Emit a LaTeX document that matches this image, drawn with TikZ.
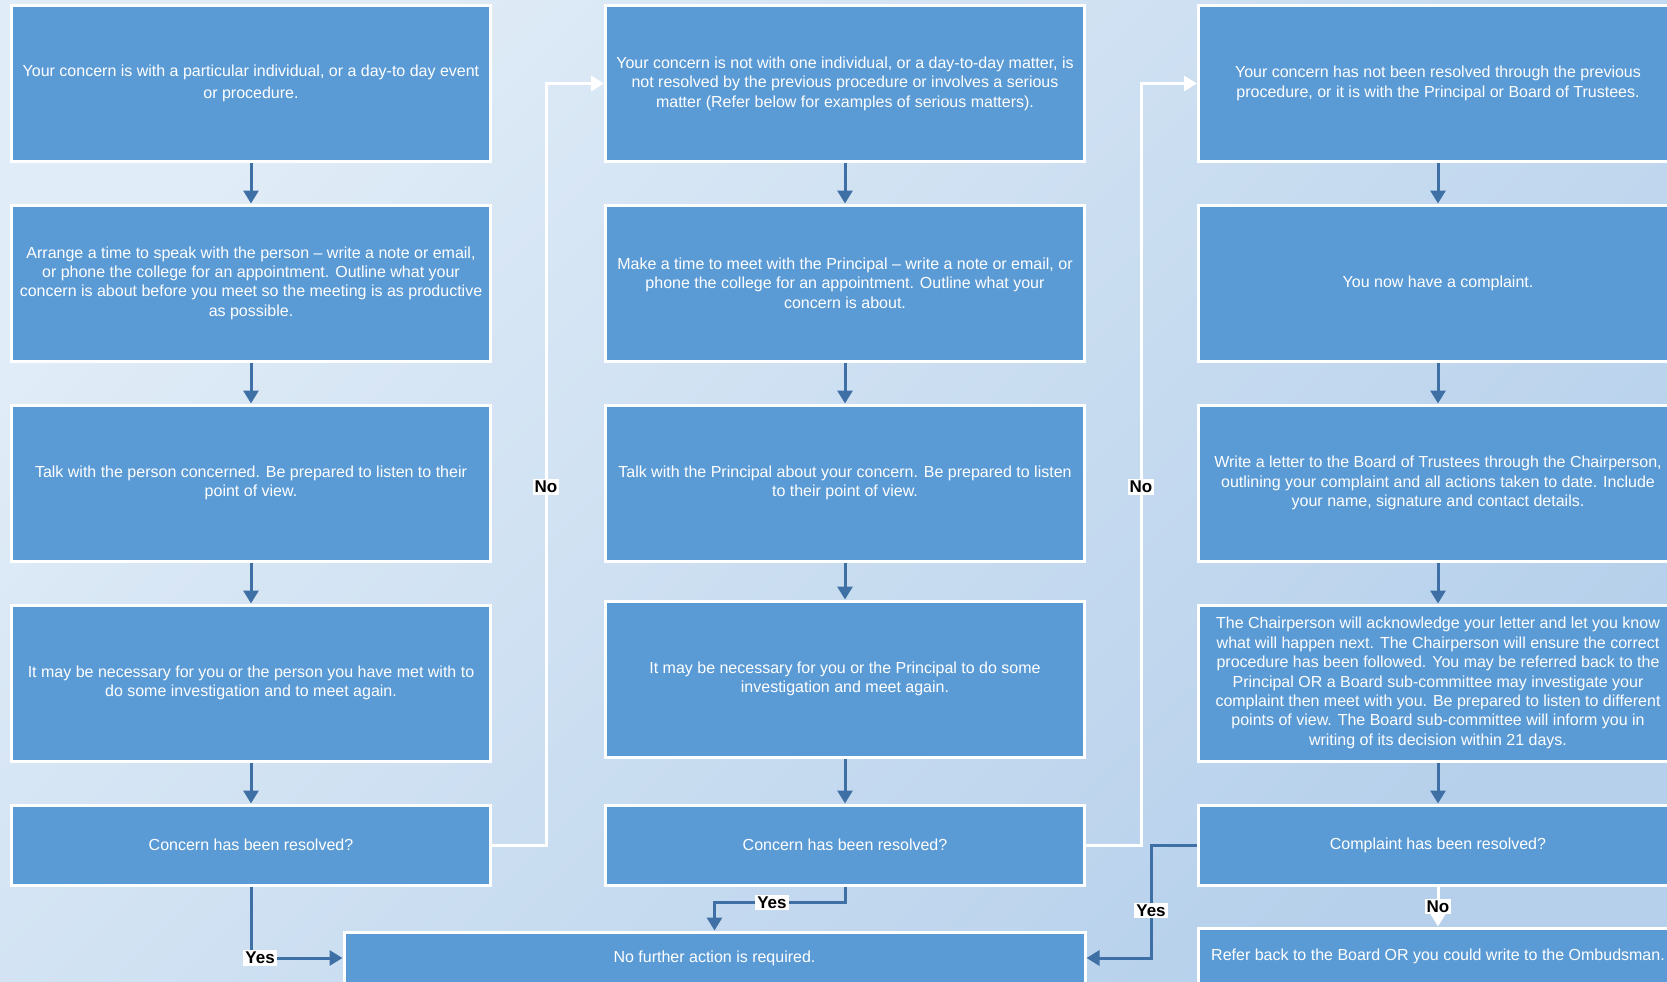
\documentclass[tikz,border=0pt]{standalone}
\usepackage{fontspec}
\setmainfont{Liberation Sans}
\usetikzlibrary{arrows.meta}
\definecolor{boxblue}{HTML}{5B9BD5}
\definecolor{arrowblue}{RGB}{62,112,166}
\definecolor{bgtop}{RGB}{224,236,247}
\definecolor{bgbot}{RGB}{182,208,235}
\begin{document}
\begin{tikzpicture}[x=0.5pt, y=-0.5pt,
  stepbox/.style={draw=white, line width=1.5pt, fill=boxblue, text=white,
    minimum width=239.5pt, minimum height=78pt, inner sep=0pt, align=center,
    font=\fontsize{8}{9.7}\selectfont},
  askbox/.style={stepbox, minimum height=40pt},
  flow/.style={draw=arrowblue, line width=1.5pt, -{Triangle[length=6.5pt,width=7.5pt]}},
  back/.style={draw=white, line width=1.5pt, -{Triangle[length=6.5pt,width=7.5pt]}},
  lbl/.style={fill=white, text=black, inner sep=1pt, font=\fontsize{8.5}{9}\selectfont\bfseries}]
\useasboundingbox (0,0) rectangle (1667,981);
\clip (0,0) rectangle (1667,981);
\shade[shading=axis, top color=bgtop, bottom color=bgbot, shading angle=45] (0,0) rectangle (1667,981);

\node[stepbox] (c1r1) at (251,83.5) {Your concern is with a particular individual, or a day-to day event\\[1.5pt] or procedure.};
\node[stepbox] (c1r2) at (251,283) {Arrange a time to speak with the person – write a note or email,\\ or phone the college for an appointment.  Outline what your\\ concern is about before you meet so the meeting is as productive\\ as possible.};
\node[stepbox] (c1r3) at (251,483) {Talk with the person concerned.  Be prepared to listen to their\\ point of view.};
\node[stepbox] (c1r4) at (251,683) {It may be necessary for you or the person you have met with to\\ do some investigation and to meet again.};
\node[askbox] (c1r5) at (251,845) {Concern has been resolved?};

\node[stepbox] (c2r1) at (845,83.5) {Your concern is not with one individual, or a day-to-day matter, is\\ not resolved by the previous procedure or involves a serious\\ matter (Refer below for examples of serious matters).};
\node[stepbox] (c2r2) at (845,283) {Make a time to meet with the Principal – write a note or email, or\\ phone the college for an appointment.  Outline what your\\ concern is about.};
\node[stepbox] (c2r3) at (845,483) {Talk with the Principal about your concern.  Be prepared to listen\\ to their point of view.};
\node[stepbox] (c2r4) at (845,679) {It may be necessary for you or the Principal to do some\\ investigation and meet again.};
\node[askbox] (c2r5) at (845,845) {Concern has been resolved?};

\node[stepbox] (c3r1) at (1438,83.5) {Your concern has not been resolved through the previous\\ procedure, or it is with the Principal or Board of Trustees.};
\node[stepbox] (c3r2) at (1438,283) {You now have a complaint.};
\node[stepbox] (c3r3) at (1438,483) {Write a letter to the Board of Trustees through the Chairperson,\\ outlining your complaint and all actions taken to date.  Include\\ your name, signature and contact details.};
\node[stepbox] (c3r4) at (1438,683) {The Chairperson will acknowledge your letter and let you know\\ what will happen next.  The Chairperson will ensure the correct\\ procedure has been followed.  You may be referred back to the\\ Principal OR a Board sub-committee may investigate your\\ complaint then meet with you.  Be prepared to listen to different\\ points of view.  The Board sub-committee will inform you in\\ writing of its decision within 21 days.};
\node[askbox] (c3r5) at (1438,845) {Complaint has been resolved?};

\node[stepbox, minimum width=370.5pt, minimum height=26pt] (done) at (714.5,958) {No further action is required.};
\node[stepbox, minimum height=28pt] (ombud) at (1438,956) {Refer back to the Board OR you could write to the Ombudsman.};

\draw[flow] (c1r1) -- (c1r2);
\draw[flow] (c1r2) -- (c1r3);
\draw[flow] (c1r3) -- (c1r4);
\draw[flow] (c1r4) -- (c1r5);
\draw[flow] (c2r1) -- (c2r2);
\draw[flow] (c2r2) -- (c2r3);
\draw[flow] (c2r3) -- (c2r4);
\draw[flow] (c2r4) -- (c2r5);
\draw[flow] (c3r1) -- (c3r2);
\draw[flow] (c3r2) -- (c3r3);
\draw[flow] (c3r3) -- (c3r4);
\draw[flow] (c3r4) -- (c3r5);

\draw[back] (c1r5.east) -- ++(54,0) |- (c2r1.west) node[lbl, pos=.235] (no1) {No};
\draw[back] (c2r5.east) -- ++(55,0) |- (c3r1.west) node[lbl, pos=.235] (no2) {No};
\draw[back] (c3r5.south) -- (ombud.north) node[lbl, midway] (no3) {No};

\draw[flow] (c1r5.south) |- (done.west) node[lbl, pos=.55] (yes1) {Yes};
\draw[flow] (c2r5.south) -- ++(0,16) -| (done.north) node[lbl, pos=.28] (yes2) {Yes};
\draw[flow] (c3r5.west) -- ++(-46,0) |- (done.east) node[lbl, pos=.29] (yes3) {Yes};
\end{tikzpicture}
\end{document}
